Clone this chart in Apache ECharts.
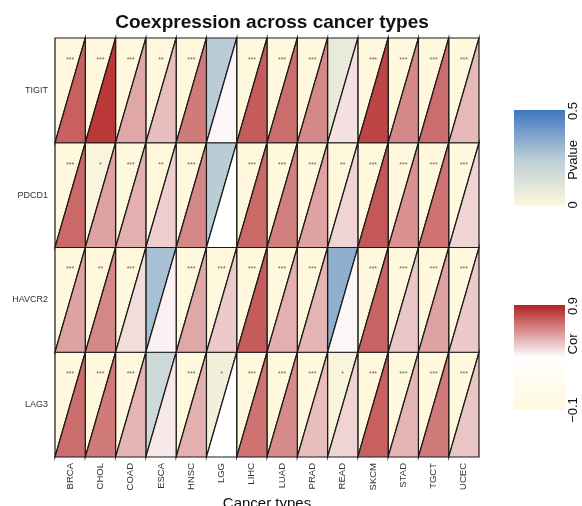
<!DOCTYPE html>
<html>
<head>
<meta charset="utf-8">
<script src="https://cdn.jsdelivr.net/npm/echarts@6/dist/echarts.min.js"></script>
<style>html,body{margin:0;padding:0;background:#fff}#c{width:582px;height:506px}</style>
</head>
<body>
<div id="c"></div>
<script>
var cancers = ['BRCA','CHOL','COAD','ESCA','HNSC','LGG','LIHC','LUAD','PRAD','READ','SKCM','STAD','TGCT','UCEC'];
var genes = ['TIGIT','PDCD1','HAVCR2','LAG3'];

var corTIGIT  = [0.76,0.85,0.60,0.55,0.70,0.42,0.77,0.73,0.67,0.47,0.82,0.67,0.73,0.56];
var corPDCD1  = [0.74,0.61,0.58,0.51,0.67,0.40,0.74,0.69,0.61,0.50,0.78,0.65,0.72,0.50];
var corHAVCR2 = [0.61,0.67,0.48,0.43,0.60,0.52,0.77,0.58,0.57,0.42,0.75,0.53,0.61,0.52];
var corLAG3   = [0.73,0.70,0.57,0.45,0.58,0.40,0.72,0.66,0.55,0.50,0.76,0.57,0.70,0.53];

var pTIGIT  = [0.0001,0.0001,0.0001,0.005,0.0001,0.245,0.0001,0.0001,0.0001,0.08,0.0001,0.0001,0.0001,0.0001];
var pPDCD1  = [0.0001,0.02,0.0001,0.005,0.0001,0.245,0.0001,0.0001,0.0001,0.005,0.0001,0.0001,0.0001,0.0001];
var pHAVCR2 = [0.0001,0.005,0.0001,0.285,0.0001,0.0001,0.0001,0.0001,0.0001,0.335,0.0001,0.0001,0.0001,0.0001];
var pLAG3   = [0.0001,0.0001,0.0001,0.18,0.0001,0.045,0.0001,0.0001,0.0001,0.02,0.0001,0.0001,0.0001,0.0001];

var corRows = [corTIGIT, corPDCD1, corHAVCR2, corLAG3];
var pRows = [pTIGIT, pPDCD1, pHAVCR2, pLAG3];

function stars(p){ return p < 0.001 ? '***' : p < 0.01 ? '**' : p < 0.05 ? '*' : ''; }

var pColors = ['#FFF8DC','#B9CCD6','#3E76BF'];
var corColors = ['#FFF8DC','#FFFFFF','#B22222'];

var pData = [], corData = [];
for (var g = 0; g < genes.length; g++) {
  for (var c = 0; c < cancers.length; c++) {
    pData.push([c, g, pRows[g][c], stars(pRows[g][c])]);
    corData.push([c, g, corRows[g][c]]);
  }
}

var chart = echarts.init(document.getElementById('c'));
var FONT = 'Liberation Sans, Arial, sans-serif';

function cellRect(api) {
  var ctr = api.coord([api.value(0), api.value(1)]);
  var sz = api.size([1, 1]);
  return {l: ctr[0]-sz[0]/2, r: ctr[0]+sz[0]/2, t: ctr[1]-sz[1]/2, b: ctr[1]+sz[1]/2, w: sz[0], h: sz[1]};
}

chart.setOption({
  animation: false,
  title: {
    text: 'Coexpression across cancer types',
    left: 267, top: 8, textAlign: 'center',
    textStyle: {fontFamily: FONT, fontSize: 19, fontWeight: 'bold', color: '#111'}
  },
  grid: {left: 55, right: 103, top: 38, bottom: 49, containLabel: false, outerBoundsMode: 'none'},
  xAxis: {
    type: 'category', data: cancers,
    name: 'Cancer types', nameLocation: 'middle', nameGap: 39, nameMoveOverlap: false,
    nameTextStyle: {fontFamily: FONT, fontSize: 15, color: '#111'},
    axisLine: {show: false}, axisTick: {show: false}, splitLine: {show: false},
    axisLabel: {rotate: 90, fontFamily: FONT, fontSize: 9.5, color: '#333', margin: 6}
  },
  yAxis: {
    type: 'category', data: genes, inverse: true,
    axisLine: {show: false}, axisTick: {show: false}, splitLine: {show: false},
    axisLabel: {fontFamily: FONT, fontSize: 9, color: '#333', margin: 7}
  },
  visualMap: [
    {type: 'continuous', show: false, seriesIndex: 0, dimension: 2, min: 0, max: 0.5, inRange: {color: pColors}},
    {type: 'continuous', show: false, seriesIndex: 1, dimension: 2, min: -0.1, max: 0.9, inRange: {color: corColors}}
  ],
  series: [
    {
      type: 'custom', data: pData,
      renderItem: function(params, api) {
        var R = cellRect(api);
        var s = pData[params.dataIndex][3];
        return {type: 'group', children: [
          {type: 'polygon', shape: {points: [[R.l,R.t],[R.r,R.t],[R.l,R.b]]},
           style: {fill: api.visual('color'), stroke: '#1a1a1a', lineWidth: 1.2}},
          {type: 'text', x: R.l + R.w*0.5, y: R.t + R.h*0.21,
           style: {text: s, fill: '#666', fontSize: 7, fontFamily: FONT, align: 'center', verticalAlign: 'middle'}}
        ]};
      }
    },
    {
      type: 'custom', data: corData,
      renderItem: function(params, api) {
        var R = cellRect(api);
        return {type: 'polygon', shape: {points: [[R.r,R.t],[R.r,R.b],[R.l,R.b]]},
          style: {fill: api.visual('color'), stroke: '#1a1a1a', lineWidth: 1.2}};
      }
    }
  ],
  graphic: [
    {type: 'rect', shape: {x: 514, y: 110, width: 51, height: 96},
     style: {fill: {type: 'linear', x: 0, y: 1, x2: 0, y2: 0, colorStops: [
       {offset: 0, color: pColors[0]}, {offset: 0.5, color: pColors[1]}, {offset: 1, color: pColors[2]}]}}},
    {type: 'text', x: 573, y: 111, rotation: Math.PI/2,
     style: {text: '0.5', fontSize: 13, fontFamily: FONT, fill: '#111', align: 'center', verticalAlign: 'middle'}},
    {type: 'text', x: 573, y: 160, rotation: Math.PI/2,
     style: {text: 'Pvalue', fontSize: 13, fontFamily: FONT, fill: '#111', align: 'center', verticalAlign: 'middle'}},
    {type: 'text', x: 573, y: 205, rotation: Math.PI/2,
     style: {text: '0', fontSize: 13, fontFamily: FONT, fill: '#111', align: 'center', verticalAlign: 'middle'}},
    {type: 'rect', shape: {x: 514, y: 305, width: 51, height: 105},
     style: {fill: {type: 'linear', x: 0, y: 1, x2: 0, y2: 0, colorStops: [
       {offset: 0, color: corColors[0]}, {offset: 0.5, color: corColors[1]}, {offset: 1, color: corColors[2]}]}}},
    {type: 'text', x: 573, y: 306, rotation: Math.PI/2,
     style: {text: '0.9', fontSize: 13, fontFamily: FONT, fill: '#111', align: 'center', verticalAlign: 'middle'}},
    {type: 'text', x: 573, y: 344, rotation: Math.PI/2,
     style: {text: 'Cor', fontSize: 13, fontFamily: FONT, fill: '#111', align: 'center', verticalAlign: 'middle'}},
    {type: 'text', x: 573, y: 410, rotation: Math.PI/2,
     style: {text: '\u22120.1', fontSize: 13, fontFamily: FONT, fill: '#111', align: 'center', verticalAlign: 'middle'}}
  ]
});
</script>
</body>
</html>
